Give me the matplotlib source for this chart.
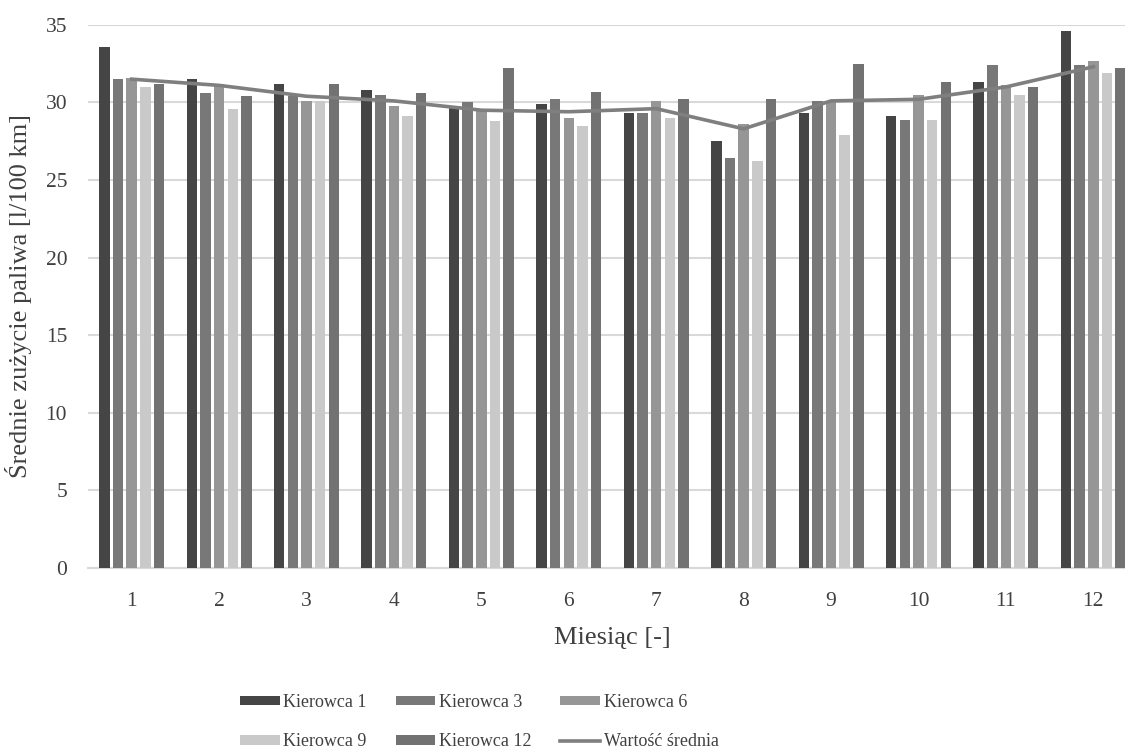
import numpy as np
import matplotlib
matplotlib.use("Agg")
import matplotlib.pyplot as plt

plt.rcParams['font.family'] = ['Liberation Serif', 'DejaVu Serif']

miesiace = [1, 2, 3, 4, 5, 6, 7, 8, 9, 10, 11, 12]
kierowca_1 = [33.6, 31.5, 31.2, 30.8, 29.8, 29.9, 29.3, 27.5, 29.3, 29.1, 31.3, 34.6]
kierowca_3 = [31.5, 30.6, 30.4, 30.5, 30.0, 30.2, 29.3, 26.4, 30.1, 28.9, 32.4, 32.4]
kierowca_6 = [31.6, 31.2, 30.1, 29.8, 29.5, 29.0, 30.1, 28.6, 30.0, 30.5, 31.1, 32.7]
kierowca_9 = [31.0, 29.6, 30.1, 29.1, 28.8, 28.5, 29.0, 26.2, 27.9, 28.9, 30.5, 31.9]
kierowca_12 = [31.2, 30.4, 31.2, 30.6, 32.2, 30.7, 30.2, 30.2, 32.5, 31.3, 31.0, 32.2]
srednia = [31.5, 31.1, 30.4, 30.1, 29.5, 29.4, 29.6, 28.3, 30.1, 30.2, 31.0, 32.3]

serie = [kierowca_1, kierowca_3, kierowca_6, kierowca_9, kierowca_12]
nazwy = ["Kierowca 1", "Kierowca 3", "Kierowca 6", "Kierowca 9", "Kierowca 12"]
kolory = ["#454545", "#787878", "#969696", "#c9c9c9", "#727272"]

fig = plt.figure(figsize=(11.25, 7.53), dpi=100)
ax = fig.add_axes([0.0782, 0.2457, 0.9325, 0.7213])

x = np.array(miesiace)
szer = 0.12
krok = 0.156
slupki = []
for i in range(5):
    b = ax.bar(x + (i - 2) * krok, serie[i], width=szer, color=kolory[i], label=nazwy[i], zorder=3)
    slupki.append(b)
linia, = ax.plot(x, srednia, color="#7f7f7f", linewidth=2.6, label="Wartość średnia", zorder=4)

ax.set_xlim(0.5, 12.5)
ax.set_ylim(0, 35)
ax.set_yticks(range(0, 36, 5))
ax.set_xticks(miesiace)
ax.grid(axis="y", color="#d9d9d9", linewidth=1.5, zorder=0)
for s in ["top", "right", "left"]:
    ax.spines[s].set_visible(False)
ax.spines["bottom"].set_color("#d9d9d9")
ax.spines["bottom"].set_linewidth(1.5)
ax.tick_params(axis="both", length=0, labelsize=15.5, colors="#404040")
ax.tick_params(axis="y", pad=15)
ax.tick_params(axis="x", pad=17)

ax.set_xlabel("Miesiąc [-]", fontsize=19, color="#404040", labelpad=12)
ax.set_ylabel("Średnie zużycie paliwa [l/100 km]", fontsize=19, color="#404040", labelpad=10)

uchwyty = [slupki[0], slupki[3], slupki[1], slupki[4], slupki[2], linia]
etykiety = ["Kierowca 1", "Kierowca 9", "Kierowca 3", "Kierowca 12", "Kierowca 6", "Wartość średnia"]
fig.legend(uchwyty, etykiety, loc="center", bbox_to_anchor=(0.426, 0.041), ncol=3,
           frameon=False, fontsize=13, handlelength=2.2, handleheight=0.45,
           handletextpad=0.2, columnspacing=1.6, labelspacing=1.25, labelcolor="#404040")

fig.savefig("out.png", dpi=100)
